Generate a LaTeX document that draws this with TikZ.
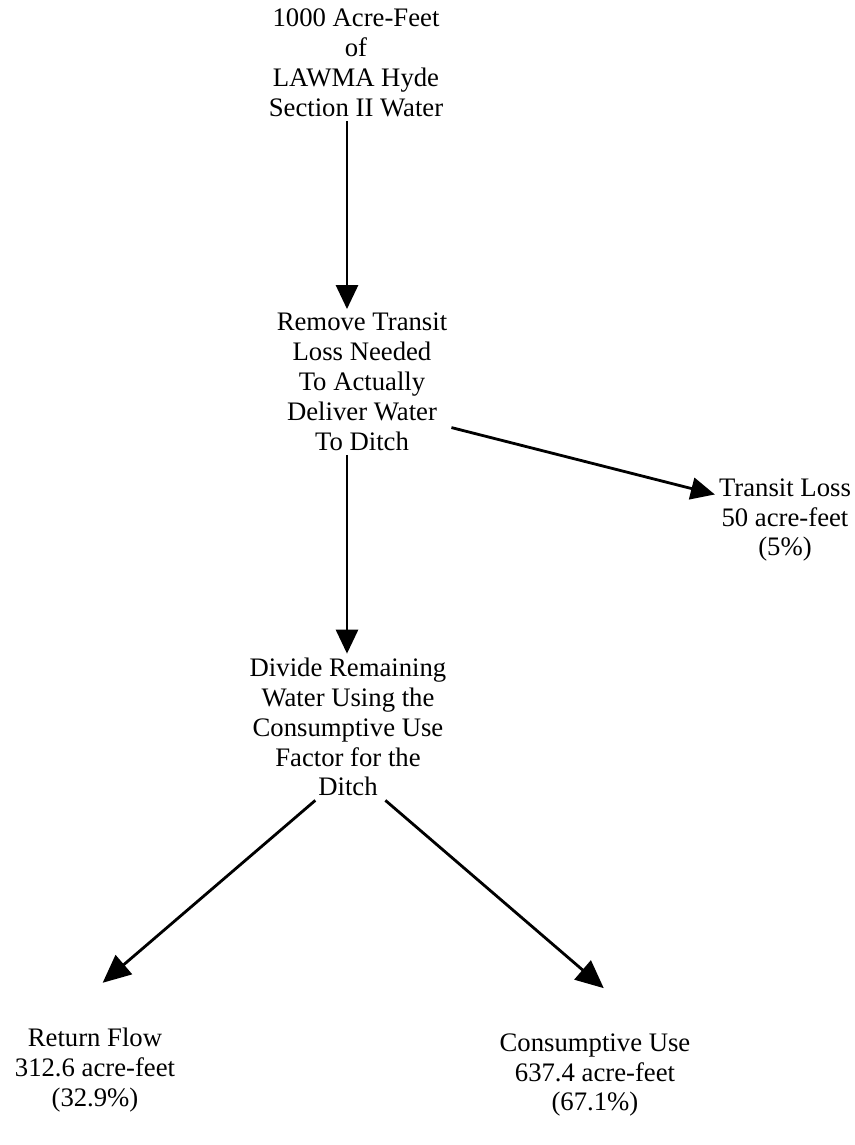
\documentclass[tikz,border=0pt]{standalone}
\usepackage{fontspec}
\setmainfont{Liberation Serif}
\usepackage{tikz}
\usetikzlibrary{arrows.meta,positioning}

\begin{document}
\begin{tikzpicture}[auto,
	step_txt/.style={align=center, inner sep=1pt, font=\fontsize{7.6}{8.5}\selectfont},
	paths/.style={-{Triangle[length=2.4mm,width=2.2mm]}, thick},
	splitpath/.style={-{Triangle[length=2.8mm,width=2.5mm]}, thick, shorten >=6.3mm}
	] % End Creating Flow Pieces
\useasboundingbox (0,0) rectangle (8.55,-11.45);

% water steps
\node [step_txt] at (3.56,-0.63) (hyde) {1000 Acre-Feet\\of\\LAWMA Hyde\\Section II Water};
\node [step_txt] at (3.62,-3.82) (remove) {Remove Transit\\Loss Needed\\To Actually\\Deliver Water\\To Ditch};
\node [step_txt] at (3.48,-7.27) (divide) {Divide Remaining\\Water Using the\\Consumptive Use\\Factor for the\\Ditch};

% results
\node [step_txt] at (7.85,-5.20) (tloss) {Transit Loss\\50 acre-feet\\(5\%)};
\node [step_txt] at (0.95,-10.70) (retflow) {Return Flow\\312.6 acre-feet\\(32.9\%)};
\node [step_txt] at (5.95,-10.75) (consuse) {Consumptive Use\\637.4 acre-feet\\(67.1\%)};

% paths
\draw[paths] (hyde.south -| 3.47,0) -- (remove.north -| 3.47,0);
\draw[paths] (remove.south -| 3.47,0) -- (divide.north -| 3.47,0);
\draw[paths] (remove.-27) -- (tloss.160);

\draw[splitpath] (divide.-114) -- (retflow.131);
\draw[splitpath] (divide.-63) -- (consuse.39);

\end{tikzpicture}
\end{document}
